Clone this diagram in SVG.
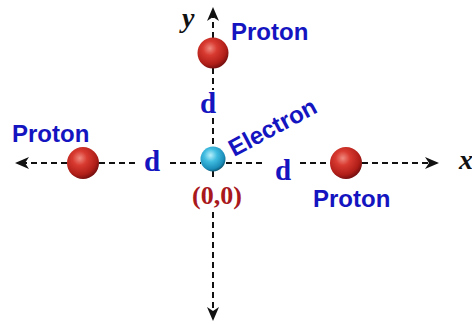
<svg xmlns="http://www.w3.org/2000/svg" width="472" height="324" viewBox="0 0 472 324">
<style>
.axis{stroke:#111;stroke-width:2;stroke-dasharray:6 4;fill:none}
.lbl{font-family:"Liberation Sans",Arial,sans-serif;font-weight:bold;font-size:24px;fill:#1414c0}
.d{font-family:"Liberation Serif","Times New Roman",serif;font-weight:bold;font-size:29px;fill:#1414c0;text-anchor:middle}
.ax{font-family:"Liberation Serif","Times New Roman",serif;font-weight:bold;font-style:italic;font-size:28px;fill:#111}
.org{font-family:"Liberation Serif","Times New Roman",serif;font-weight:bold;font-size:26px;fill:#a8181c;text-anchor:middle}
</style>
<defs>
<radialGradient id="gp" cx="0.4" cy="0.35" r="0.65">
<stop offset="0" stop-color="#f08a80"/>
<stop offset="0.35" stop-color="#d83a30"/>
<stop offset="0.8" stop-color="#b01e18"/>
<stop offset="1" stop-color="#7a1010"/>
</radialGradient>
<radialGradient id="ge" cx="0.4" cy="0.35" r="0.65">
<stop offset="0" stop-color="#b8f0fc"/>
<stop offset="0.4" stop-color="#40bce0"/>
<stop offset="0.85" stop-color="#1a8cb8"/>
<stop offset="1" stop-color="#10607e"/>
</radialGradient>
<marker id="arr" viewBox="0 0 14 12" refX="12" refY="6" markerWidth="14" markerHeight="12" markerUnits="userSpaceOnUse" orient="auto-start-reverse">
<path d="M0,0 L14,6 L0,12 L4,6 z" fill="#111"/>
</marker>
</defs>
<rect width="472" height="324" fill="#ffffff"/>
<g id="connectors">
<line class="axis" x1="67" y1="163" x2="17" y2="163" marker-end="url(#arr)"/>
<line class="axis" x1="99" y1="163" x2="135" y2="163"/>
<line class="axis" x1="170" y1="163" x2="201" y2="163"/>
<line class="axis" x1="226" y1="163" x2="264" y2="163"/>
<line class="axis" x1="300" y1="163" x2="330" y2="163"/>
<line class="axis" x1="362" y1="163" x2="437" y2="163" marker-end="url(#arr)"/>
<line class="axis" x1="213" y1="38" x2="213" y2="9" marker-end="url(#arr)"/>
<line class="axis" x1="213" y1="68" x2="213" y2="90"/>
<line class="axis" x1="213" y1="118" x2="213" y2="147"/>
<line class="axis" x1="213" y1="171" x2="213" y2="178"/>
<line class="axis" x1="213" y1="212" x2="213" y2="319" marker-end="url(#arr)"/>
</g>
<g id="axis-labels">
<text class="ax" x="182" y="27">y</text>
<text class="ax" x="459" y="169">x</text>
</g>
<g id="proton-top">
<circle cx="213" cy="53" r="15.5" fill="url(#gp)"/>
<text class="lbl" x="231" y="40">Proton</text>
</g>
<g id="proton-left">
<circle cx="83" cy="163" r="16" fill="url(#gp)"/>
<text class="lbl" x="12" y="142">Proton</text>
</g>
<g id="proton-right">
<circle cx="346" cy="163" r="16" fill="url(#gp)"/>
<text class="lbl" x="313" y="207">Proton</text>
</g>
<g id="electron">
<circle cx="213" cy="159" r="12.5" fill="url(#ge)"/>
<text class="lbl" x="234" y="157" transform="rotate(-28 234 157)">Electron</text>
<text class="org" x="217" y="204">(0,0)</text>
</g>
<g id="distances">
<text class="d" x="152" y="171">d</text>
<text class="d" x="283" y="180">d</text>
<text class="d" x="208" y="113">d</text>
</g>
</svg>
